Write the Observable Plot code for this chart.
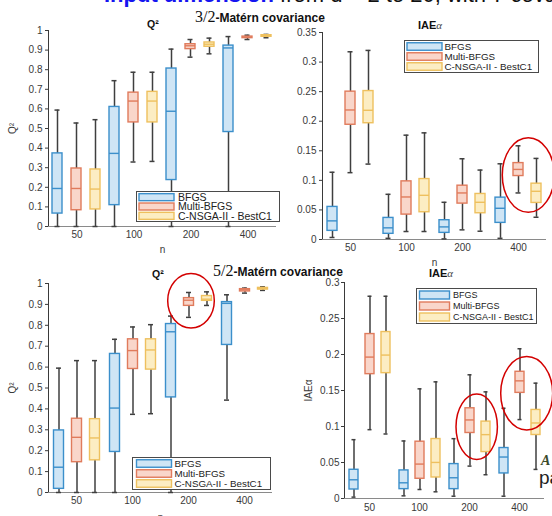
<!DOCTYPE html>
<html><head><meta charset="utf-8">
<script src="https://cdn.jsdelivr.net/npm/d3@7"></script>
<script src="https://cdn.jsdelivr.net/npm/@observablehq/plot@0.6"></script>
<style>
html,body{margin:0;padding:0;background:#fff;}
#page{position:relative;width:552px;height:516px;overflow:hidden;background:#fff;font-family:'Liberation Sans',Arial,Helvetica,sans-serif;}
.abs{position:absolute;}
.t{position:absolute;white-space:nowrap;color:#111;}
</style></head>
<body><div id="page"></div>
<script>
// ---------- data ----------
const nGroups = ["50", "100", "200", "400"];
const methods = ["BFGS", "Multi-BFGS", "C-NSGA-II - BestC1"];

// Q², 3/2-Matérn
const q2m32_lo  = [0, 0, 0,            0, 0.329, 0.332,     0, 0.864, 0.881,     0, 0.954, 0.963];
const q2m32_q1  = [0.066, 0.083, 0.087, 0.109, 0.531, 0.531, 0.237, 0.905, 0.917, 0.482, 0.961, 0.968];
const q2m32_med = [0.194, 0.194, 0.191, 0.373, 0.640, 0.640, 0.588, 0.922, 0.930, 0.911, 0.966, 0.973];
const q2m32_q3  = [0.373, 0.296, 0.291, 0.610, 0.683, 0.687, 0.806, 0.930, 0.939, 0.923, 0.969, 0.976];
const q2m32_hi  = [0.594, 0.528, 0.545, 0.744, 0.787, 0.787, 0.905, 0.954, 0.961, 0.969, 0.976, 0.980];

// IAEα, 3/2-Matérn
const iae32_lo  = [0.0034, 0.113, 0.1275, 0.002, 0.0135, 0.0135, 0.001, 0.0163, 0.014, 0.002, 0.0787, 0.0376];
const iae32_q1  = [0.0146, 0.194, 0.1966, 0.0096, 0.0421, 0.0461, 0.0112, 0.0607, 0.0444, 0.0281, 0.1073, 0.0618];
const iae32_med = [0.0315, 0.219, 0.2185, 0.0197, 0.0719, 0.0747, 0.0213, 0.0787, 0.0629, 0.0528, 0.1185, 0.0815];
const iae32_q3  = [0.0551, 0.250, 0.251, 0.0365, 0.0983, 0.1022, 0.0326, 0.091, 0.077, 0.0708, 0.1292, 0.0944];
const iae32_hi  = [0.1137, 0.3174, 0.3197, 0.0764, 0.1764, 0.1803, 0.0629, 0.1365, 0.1174, 0.128, 0.1584, 0.1371];

// Q², 5/2-Matérn
const q2m52_lo  = [0, 0, 0,              0, 0.374, 0.377,     0, 0.838, 0.895,     0.442, 0.954, 0.967];
const q2m52_q1  = [0.0175, 0.145, 0.154, 0.194, 0.591, 0.588, 0.455, 0.893, 0.917, 0.706, 0.962, 0.971];
const q2m52_med = [0.121, 0.264, 0.261,  0.404, 0.679, 0.682, 0.769, 0.920, 0.925, 0.905, 0.970, 0.976];
const q2m52_q3  = [0.297, 0.353, 0.351,  0.663, 0.733, 0.733, 0.806, 0.930, 0.940, 0.911, 0.973, 0.979];
const q2m52_hi  = [0.595, 0.631, 0.631,  0.733, 0.792, 0.803, 0.844, 0.957, 0.960, 0.946, 0.978, 0.984];

// IAEα, 5/2-Matérn
const iae52_lo  = [0.0019, 0.0956, 0.0896, 0.0037, 0.0125, 0.0093, 0.0032, 0.045, 0.033, 0.0032, 0.1096, 0.0404];
const iae52_q1  = [0.0125, 0.1727, 0.1741, 0.013, 0.0274, 0.0292, 0.013, 0.091, 0.0645, 0.0348, 0.1467, 0.0882];
const iae52_med = [0.026, 0.1964, 0.1992, 0.0218, 0.0478, 0.0501, 0.0288, 0.1091, 0.0887, 0.0576, 0.1634, 0.1049];
const iae52_q3  = [0.0399, 0.2284, 0.2312, 0.039, 0.0789, 0.0826, 0.0478, 0.1253, 0.1068, 0.0701, 0.176, 0.123];
const iae52_hi  = [0.0817, 0.2809, 0.2809, 0.0799, 0.1523, 0.162, 0.0831, 0.1718, 0.1481, 0.1253, 0.208, 0.1602];

const ticksQ2 = [0, 0.1, 0.2, 0.3, 0.4, 0.5, 0.6, 0.7, 0.8, 0.9, 1];
const ticksIAE32 = [0, 0.05, 0.1, 0.15, 0.2, 0.25, 0.3, 0.35];
const ticksIAE52 = [0, 0.05, 0.1, 0.15, 0.2, 0.25, 0.3];

// ---------- styles ----------
const FONT = "'Liberation Sans', Arial, Helvetica, sans-serif";
const strokeColors = ["#3b8fcb", "#e07b5c", "#eec05e"];
const fillColors = ["#cfe5f5", "#f9d6ca", "#fcedc3"];
const strokeOf = Object.fromEntries(methods.map((m, i) => [m, strokeColors[i]]));
const fillOf = Object.fromEntries(methods.map((m, i) => [m, fillColors[i]]));

function table(lo, q1, med, q3, hi) {
  const out = [];
  nGroups.forEach((n, i) => methods.forEach((m, j) => {
    const k = i * 3 + j;
    out.push({n, method: m, lo: lo[k], q1: q1[k], med: med[k], q3: q3[k], hi: hi[k]});
  }));
  return out;
}
const fmt = d => String(+d.toFixed(2));

function panel(o) {
  const data = o.data;
  return Plot.plot({
    width: o.width, height: o.height,
    marginLeft: o.mL, marginRight: o.mR, marginTop: o.mT, marginBottom: o.mB,
    style: {fontFamily: FONT, fontSize: "10px", color: "#3a3a3a", background: "none", overflow: "hidden"},
    fx: {domain: nGroups, padding: 0, label: o.xLabel, tickSize: 0, tickPadding: o.xPad, labelAnchor: "center", labelOffset: o.xLabelOffset, labelArrow: "none"},
    x: {domain: methods, paddingInner: 0.45, paddingOuter: 0.225, axis: null},
    y: {domain: o.yDomain, ticks: o.yTicks, tickFormat: fmt, label: o.yLabel, labelAnchor: "center", labelOffset: o.yLabelOffset, labelArrow: "none", tickSize: 3, tickPadding: o.yPad, line: true},
    color: {type: "identity"},
    marks: [
      Plot.ruleY([o.yDomain[0]], {stroke: "#8a8a8a", strokeWidth: 1}),
      Plot.ruleX(data, {fx: "n", x: "method", y1: "lo", y2: "hi", stroke: "#3f3f3f", strokeWidth: 1.5}),
      Plot.tickY(data, {fx: "n", x: "method", y: "hi", stroke: "#3f3f3f", strokeWidth: 1.5, insetLeft: 2.5, insetRight: 2.5}),
      Plot.tickY(data, {fx: "n", x: "method", y: "lo", stroke: "#3f3f3f", strokeWidth: 1.5, insetLeft: 2.5, insetRight: 2.5}),
      Plot.barY(data, {fx: "n", x: "method", y1: "q1", y2: "q3", fill: d => fillOf[d.method], stroke: d => strokeOf[d.method], strokeWidth: 1.4}),
      Plot.tickY(data, {fx: "n", x: "method", y: "med", stroke: d => strokeOf[d.method], strokeWidth: 1.4})
    ]
  });
}

const page = document.getElementById("page");
function place(el, left, top, width, height, z, bg) {
  const d = document.createElement("div");
  d.className = "abs";
  d.style.left = left + "px"; d.style.top = top + "px";
  d.style.width = width + "px"; d.style.height = height + "px";
  d.style.zIndex = z; d.style.overflow = "hidden";
  if (bg) d.style.background = bg;
  d.appendChild(el);
  page.appendChild(d);
  return d;
}

// right panels (underneath)
place(panel({
  data: table(iae32_lo, iae32_q1, iae32_med, iae32_q3, iae32_hi),
  width: 272, height: 250, mL: 41, mR: 6, mT: 12, mB: 31,
  yDomain: [0, 0.35], yTicks: ticksIAE32, yLabel: null, yLabelOffset: 30, yPad: 3,
  xLabel: "n", xLabelOffset: 26, xPad: 4
}), 280, 20, 272, 250, 1);

place(panel({
  data: table(iae52_lo, iae52_q1, iae52_med, iae52_q3, iae52_hi),
  width: 256, height: 256, mL: 47, mR: 8, mT: 22, mB: 18,
  yDomain: [0, 0.3], yTicks: ticksIAE52, yLabel: "IAEα", yLabelOffset: 40, yPad: 2,
  xLabel: null, xLabelOffset: 26, xPad: 5
}), 296, 260, 256, 256, 1);

// left panels (on top, white background)
place(panel({
  data: table(q2m32_lo, q2m32_q1, q2m32_med, q2m32_q3, q2m32_hi),
  width: 296, height: 240, mL: 48, mR: 20, mT: 10, mB: 34,
  yDomain: [0, 1], yTicks: ticksQ2, yLabel: "Q²", yLabelOffset: 40, yPad: 3,
  xLabel: "n", xLabelOffset: 26, xPad: 4
}), 0, 20, 296, 240, 2, "#fff");

place(panel({
  data: table(q2m52_lo, q2m52_q1, q2m52_med, q2m52_q3, q2m52_hi),
  width: 296, height: 256, mL: 47.5, mR: 23.5, mT: 23, mB: 24,
  yDomain: [0, 1], yTicks: ticksQ2, yLabel: "Q²", yLabelOffset: 40, yPad: 3,
  xLabel: "n", xLabelOffset: 28, xPad: 4
}), 0, 260, 296, 256, 2, "#fff");

// ---------- legends ----------
function legend(left, top, width, height, fontSize, swX, swW, swH, txtX) {
  const svg = d3.create("svg").attr("width", width).attr("height", height)
    .style("display", "block").style("font-family", FONT);
  svg.append("rect").attr("x", 0.5).attr("y", 0.5).attr("width", width - 1).attr("height", height - 1)
    .attr("fill", "#fff").attr("stroke", "#4a4a4a").attr("stroke-width", 1);
  const rowH = (height - 3) / 3;
  methods.forEach((m, i) => {
    const cy = 1.5 + rowH * (i + 0.5);
    svg.append("rect").attr("x", swX).attr("y", cy - swH / 2).attr("width", swW).attr("height", swH)
      .attr("fill", fillColors[i]).attr("stroke", strokeColors[i]).attr("stroke-width", 1.4);
    svg.append("text").attr("x", txtX).attr("y", cy).attr("dy", "0.35em")
      .attr("font-size", fontSize).attr("fill", "#222").text(m);
  });
  place(svg.node(), left, top, width, height, 3);
}
legend(136, 191, 144, 31, 10.5, 3, 35, 7, 42);
legend(404, 40, 135, 33, 9.8, 3, 35, 7.5, 40.5);
legend(131.5, 456.5, 139, 33, 9.8, 4.5, 35, 7.5, 42.5);
legend(416, 288, 121, 36, 9, 3.5, 30, 8, 37);

// ---------- texts ----------
function text(html, left, top, css) {
  const d = document.createElement("div");
  d.className = "t"; d.innerHTML = html;
  d.style.left = left + "px"; d.style.top = top + "px"; d.style.zIndex = 5;
  Object.assign(d.style, css || {});
  page.appendChild(d);
  return d;
}
// cut-off slide heading
text('<span style="color:#1515f0;font-weight:bold">Input dimension</span> <span style="color:#111">from d = 2 to 20, with 7 covariance</span>',
  104, -16, {fontSize: "22px", lineHeight: "22px"});

const serif = "'Liberation Serif','DejaVu Serif',serif";
text('<span style="font-family:' + serif + ';font-size:16px;font-weight:normal">3/2</span>-Matérn covariance',
  195, 8, {fontSize: "12px", fontWeight: "bold", lineHeight: "18px"});
text('<span style="font-family:' + serif + ';font-size:16px;font-weight:normal">5/2</span>-Matérn covariance',
  213, 262, {fontSize: "12px", fontWeight: "bold", lineHeight: "18px"});

text('Q²', 147, 18, {fontSize: "10.5px", fontWeight: "bold"});
text('Q²', 152, 268, {fontSize: "10.5px", fontWeight: "bold"});
text('IAE<span style="font-family:' + serif + ';font-style:italic;font-weight:normal;color:#444">α</span>', 418, 19, {fontSize: "11px", fontWeight: "bold"});
text('IAE<span style="font-family:' + serif + ';font-style:italic;font-weight:normal;color:#444">α</span>', 429, 267, {fontSize: "11px", fontWeight: "bold"});

text('<i style="font-family:' + serif + ';font-weight:bold">A</i>', 541, 452, {fontSize: "14px", color: "#3b4a2a"});
text('pa', 539, 468, {fontSize: "19px", color: "#222", lineHeight: "19px"});

// ---------- red annotation ellipses ----------
const ov = d3.create("svg").attr("width", 552).attr("height", 516).style("display", "block");
const ellipses = [[528.3, 175, 26, 37.3], [191, 300.7, 23.3, 27.3], [476.7, 426.7, 20.7, 32.7], [526.7, 393.3, 26, 36.7]];
ellipses.forEach(([cx, cy, rx, ry]) => ov.append("ellipse").attr("cx", cx).attr("cy", cy).attr("rx", rx).attr("ry", ry)
  .attr("fill", "none").attr("stroke", "#d30000").attr("stroke-width", 1.5));
const ovd = place(ov.node(), 0, 0, 552, 516, 6);
ovd.style.pointerEvents = "none";
</script></body></html>
